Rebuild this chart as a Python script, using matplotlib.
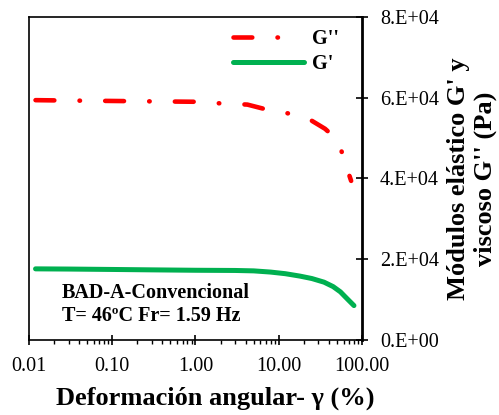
import numpy as np
import matplotlib
matplotlib.use('Agg')
from matplotlib import pyplot as plt
from matplotlib.lines import Line2D
from matplotlib.ticker import FixedLocator, FixedFormatter, LogLocator, NullFormatter

plt.rcParams['font.family'] = ['Liberation Serif', 'DejaVu Serif']

# data (strain in %, moduli in 1e4 Pa)
strain_g2 = [0.012, 0.03, 0.1, 0.3, 1.0, 2.0, 4.2, 7.4, 14, 24, 36, 45, 52, 58, 64, 74]
g2 = [5.94, 5.93, 5.92, 5.91, 5.90, 5.86, 5.83, 5.70, 5.60, 5.45, 5.23, 5.05, 4.88,
      4.62, 4.33, 3.94]
strain_g1 = [0.012, 0.03, 0.1, 0.3, 1.0, 3.0, 5.0, 8.0, 12, 18, 25, 35, 45, 55, 62, 70, 80]
g1 = [1.76, 1.755, 1.745, 1.735, 1.725, 1.72, 1.71, 1.68, 1.64, 1.58, 1.52, 1.43, 1.32,
      1.19, 1.08, 0.97, 0.85]
g2 = np.array(g2) * 1e4
g1 = np.array(g1) * 1e4

xticks = [0.01, 0.1, 1, 10, 100]
xticklabels = ['0.01', '0.10', '1.00', '10.00', '100.00']
yticks = [0, 2e4, 4e4, 6e4, 8e4]
yticklabels = ['0.E+00', '2.E+04', '4.E+04', '6.E+04', '8.E+04']

red = '#ff0000'
green = '#00b050'

fig = plt.figure(figsize=(4.99, 4.15), dpi=100)
ax = fig.add_axes([0.058, 0.181, 0.6675, 0.778])

ax.plot(strain_g2, g2, color=red, lw=3.3, dashes=(4.1, 5.5, 0.1, 5.5),
        dash_capstyle='round', solid_capstyle='round')
ax.plot(strain_g1, g1, color=green, lw=3.6, solid_capstyle='round')

# legend samples (the dash-dot sample shows one dash and one dot only)
h2 = Line2D([], [], color=red, lw=3.3, dashes=(4.1, 5.5, 0.1, 12),
            dash_capstyle='round')
h1 = Line2D([], [], color=green, lw=3.6, solid_capstyle='round')

ax.set_xscale('log')
ax.set_xlim(0.01, 100)
ax.set_ylim(0, 8e4)
ax.xaxis.set_major_locator(FixedLocator(xticks))
ax.xaxis.set_major_formatter(FixedFormatter(xticklabels))
ax.xaxis.set_minor_locator(LogLocator(base=10, subs=np.arange(2, 10)))
ax.xaxis.set_minor_formatter(NullFormatter())
ax.yaxis.tick_right()
ax.yaxis.set_label_position('right')
ax.yaxis.set_major_locator(FixedLocator(yticks))
ax.yaxis.set_major_formatter(FixedFormatter(yticklabels))

ax.tick_params(axis='x', which='major', direction='inout', length=7, width=1.2,
               labelsize=14.5, pad=9, top=False)
ax.tick_params(axis='x', which='minor', direction='out', length=3, width=1.0, top=False)
ax.tick_params(axis='y', which='major', direction='inout', length=8, width=1.2,
               labelsize=14.5, pad=9, left=False)
for s in ['left', 'top', 'bottom']:
    ax.spines[s].set_linewidth(1.2)
ax.spines['right'].set_linewidth(2.0)

ax.set_xlabel('Deformación angular- γ (%)', fontsize=19, fontweight='bold')
ax.xaxis.set_label_coords(0.56, -0.145)
ax.set_ylabel("Módulos elástico G' y\nviscoso G'' (Pa)", fontsize=19, fontweight='bold',
              labelpad=6, linespacing=1.2)

ax.text(0.099, 0.175, 'BAD-A-Convencional\nT= 46ºC Fr= 1.59 Hz', transform=ax.transAxes,
        fontsize=14.5, fontweight='bold', va='top', ha='left', linespacing=1.2)

ax.legend([h2, h1], ["G''", "G'"], loc='upper left', bbox_to_anchor=(0.6126, 0.962),
          frameon=False, borderpad=0, borderaxespad=0, handlelength=3.55,
          handletextpad=0.35, labelspacing=0.25, prop={'size': 14.5, 'weight': 'bold'})

plt.savefig('out.png', dpi=100)
